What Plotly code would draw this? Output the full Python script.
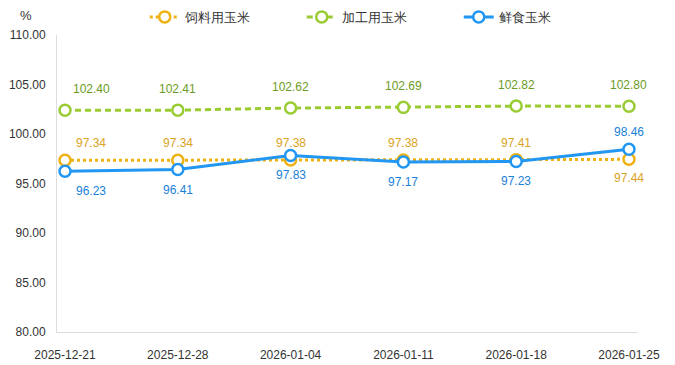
import plotly.graph_objects as go

dates = ["2025-12-21", "2025-12-28", "2026-01-04", "2026-01-11", "2026-01-18", "2026-01-25"]
feed = [97.34, 97.34, 97.38, 97.38, 97.41, 97.44]
proc = [102.40, 102.41, 102.62, 102.69, 102.82, 102.80]
fresh = [96.23, 96.41, 97.83, 97.17, 97.23, 98.46]
yticks = [80, 85, 90, 95, 100, 105, 110]

x = list(range(len(dates)))
fig = go.Figure()
annots = []

def add(name, vals, color, tcolor, dash, width, shifts):
    fig.add_trace(go.Scatter(
        x=x, y=vals, name=name, mode="lines+markers",
        line=dict(color=color, width=width, dash=dash),
        marker=dict(symbol="circle", size=11, color="white", line=dict(color=color, width=2.5)),
        cliponaxis=False,
    ))
    for i, (v, s) in enumerate(zip(vals, shifts)):
        annots.append(dict(
            x=i, y=v, xref="x", yref="y", text=f"{v:.2f}", showarrow=False,
            xanchor="center", yanchor="middle", yshift=s, xshift=26 if i == 0 else 0,
            font=dict(color=tcolor, size=12, family="Liberation Sans, Arial"),
        ))

add("饲料用玉米", feed, "#EEB111", "#DBA21E", "dot", 3, [17] * 5 + [-19])
add("加工用玉米", proc, "#99CC33", "#6B9B23", "6px,4px", 3, [21] * 6)
add("鲜食玉米", fresh, "#2196F3", "#1A7FD9", "solid", 3, [-20] * 5 + [17])

annots.append(dict(text="%", xref="paper", yref="paper", x=-0.053, y=1.067,
                   xanchor="center", yanchor="middle", showarrow=False,
                   font=dict(size=13, color="#333")))

fig.update_layout(
    width=667, height=357,
    margin=dict(l=49, r=37, t=27, b=33, autoexpand=False),
    plot_bgcolor="white", paper_bgcolor="white",
    font=dict(family="Liberation Sans, Arial", size=12, color="#333"),
    showlegend=True,
    legend=dict(orientation="h", x=0.205, xanchor="left", xref="container",
                y=0.975, yanchor="middle", yref="container", entrywidth=112,
                entrywidthmode="pixels",
                font=dict(size=13, color="#333"), traceorder="normal"),
    xaxis=dict(range=[-0.071, 5.08], tickmode="array", tickvals=x, ticktext=dates,
               showgrid=False, zeroline=False, showline=True, linecolor="#DDDDDD",
               ticks="", ticklabelstandoff=12, tickfont=dict(size=12, color="#333")),
    yaxis=dict(range=[80, 110], tickmode="array", tickvals=yticks,
               ticktext=[f"{v:.2f}" for v in yticks],
               showgrid=False, zeroline=False, showline=True, linecolor="#DDDDDD",
               ticks="", ticklabelstandoff=8, tickfont=dict(size=12, color="#333")),
    annotations=annots,
)
fig.write_html("out.html")
